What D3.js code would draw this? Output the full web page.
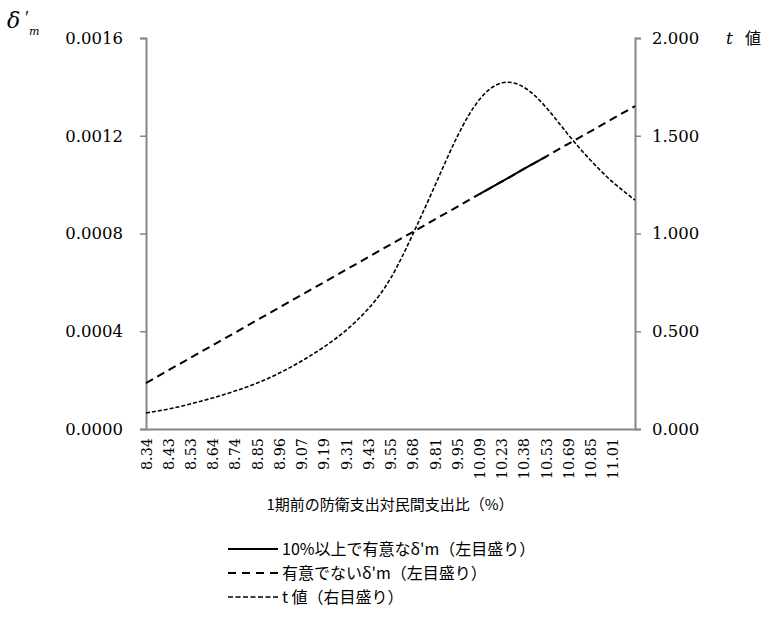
<!DOCTYPE html>
<html>
<head>
<meta charset="utf-8">
<script src="https://cdn.jsdelivr.net/npm/d3@7"></script>
<style>
  html, body { margin: 0; padding: 0; background: #fff; }
  svg { display: block; }
</style>
</head>
<body>
<svg id="chart" width="767" height="618"></svg>
<script>
// ---- data ----
// category labels shown on the x axis (the last data point lies one step beyond 11.01, unlabeled)
const xLabels = ["8.34","8.43","8.53","8.64","8.74","8.85","8.96","9.07","9.19","9.31","9.43",
                 "9.55","9.68","9.81","9.95","10.09","10.23","10.38","10.53","10.69","10.85","11.01"];
// δ'm (left axis)
const deltaValues = [0.000188,0.000240,0.000291,0.000343,0.000394,0.000446,0.000497,0.000549,
                     0.000600,0.000652,0.000703,0.000755,0.000806,0.000858,0.000909,0.000961,
                     0.001012,0.001064,0.001115,0.001167,0.001218,0.001270,0.001321];
// significant (10%) part of δ'm, as category index range
const sigStart = 15, sigEnd = 18;
// t value (right axis)
const tValues = [0.082,0.102,0.128,0.159,0.194,0.235,0.286,0.348,0.419,0.505,0.615,0.770,
                 0.995,1.245,1.495,1.685,1.770,1.748,1.645,1.505,1.375,1.263,1.171];
const leftTicks = [0, 0.0004, 0.0008, 0.0012, 0.0016];
const rightTicks = [0, 0.5, 1.0, 1.5, 2.0];
const xTitle = "1期前の防衛支出対民間支出比（%）";
const legendItems = [
  {label: "10%以上で有意なδ'm（左目盛り）", dash: null, width: 2},
  {label: "有意でないδ'm（左目盛り）", dash: "8,6", width: 2},
  {label: "t 値（右目盛り）", dash: "5,2.5", width: 1.6}
];

// ---- drawing ----
const svg = d3.select("#chart");
const serif = "DejaVu Serif, Liberation Serif, serif";
const cjk = "Noto Sans CJK JP, sans-serif";
const L = 146, R = 635, T = 38, B = 429;
const axisColor = "#868686";

const x = d3.scaleLinear().domain([0, deltaValues.length - 1]).range([L, R]);
const yL = d3.scaleLinear().domain([0, 0.0016]).range([B, T]);
const yR = d3.scaleLinear().domain([0, 2]).range([B, T]);

// left axis
const gL = svg.append("g").attr("transform", `translate(${L},0)`)
  .call(d3.axisLeft(yL).tickValues(leftTicks).tickFormat(d3.format(".4f")).tickSizeOuter(0).tickSize(6).tickPadding(17));
// right axis
const gR = svg.append("g").attr("transform", `translate(${R},0)`)
  .call(d3.axisRight(yR).tickValues(rightTicks).tickFormat(d3.format(".3f")).tickSizeOuter(0).tickSize(6).tickPadding(11));
// bottom axis
const gB = svg.append("g").attr("transform", `translate(0,${B})`)
  .call(d3.axisBottom(x).tickValues(d3.range(xLabels.length)).tickFormat(i => xLabels[i]).tickSize(0).tickSizeOuter(0));

[gL, gR, gB].forEach(g => {
  g.attr("font-family", null).attr("font-size", null);
  g.select(".domain").attr("stroke", axisColor).attr("stroke-width", 2);
  g.selectAll(".tick line").attr("stroke", axisColor).attr("stroke-width", 1.5);
  g.selectAll("text").style("font-family", serif).attr("fill", "#000");
});
gL.selectAll("text").style("font-size", "16.5px");
gR.selectAll("text").style("font-size", "16.5px");
gB.selectAll("text")
  .style("font-size", "14.4px")
  .attr("text-anchor", "end")
  .attr("dy", "0.35em")
  .attr("transform", "translate(0,9) rotate(-90)")
  .attr("x", 0).attr("y", 0);

// lines
const lineDelta = d3.line().x((d, i) => x(i)).y(d => yL(d));
svg.append("path").datum(deltaValues)
  .attr("d", lineDelta).attr("fill", "none").attr("stroke", "#000")
  .attr("stroke-width", 2).attr("stroke-dasharray", "8,5");

const sigData = deltaValues.map((d, i) => ({i, d})).filter(p => p.i >= sigStart && p.i <= sigEnd);
svg.append("path").datum(sigData)
  .attr("d", d3.line().x(p => x(p.i)).y(p => yL(p.d)))
  .attr("fill", "none").attr("stroke", "#000").attr("stroke-width", 2);

const lineT = d3.line().x((d, i) => x(i)).y(d => yR(d)).curve(d3.curveNatural);
svg.append("path").datum(tValues)
  .attr("d", lineT).attr("fill", "none").attr("stroke", "#000")
  .attr("stroke-width", 1.6).attr("stroke-dasharray", "4,2");

// axis titles
svg.append("text").attr("x", 7).attr("y", 28).style("font-family", serif).style("font-size", "22px")
  .style("font-style", "italic").text("δ");
svg.append("text").attr("x", 24).attr("y", 24).style("font-family", "Liberation Serif, serif").style("font-size", "18px")
  .style("font-style", "italic").text("′");
svg.append("text").attr("x", 29).attr("y", 35).style("font-family", serif).style("font-size", "11px")
  .style("font-style", "italic").text("m");

svg.append("text").attr("x", 726).attr("y", 44).style("font-family", serif).style("font-size", "17px")
  .style("font-style", "italic").text("t");
svg.append("text").attr("x", 745).attr("y", 44).style("font-family", cjk).style("font-size", "16px").text("値");

svg.append("text").attr("x", 390).attr("y", 510).attr("text-anchor", "middle")
  .style("font-family", cjk).style("font-size", "15px").text(xTitle);

// legend
const lg = svg.append("g");
legendItems.forEach((it, k) => {
  const yy = 549 + k * 24;
  lg.append("line").attr("x1", 228).attr("x2", 278).attr("y1", yy).attr("y2", yy)
    .attr("stroke", "#000").attr("stroke-width", it.width)
    .attr("stroke-dasharray", it.dash);
  lg.append("text").attr("x", 282).attr("y", yy).attr("dy", "0.35em")
    .style("font-family", cjk).style("font-size", "16px").text(it.label);
});
</script>
</body>
</html>
